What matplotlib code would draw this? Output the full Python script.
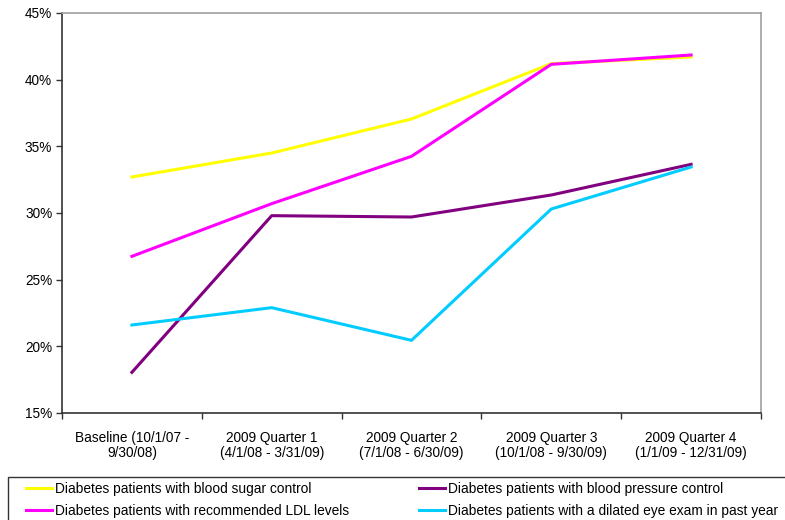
import matplotlib
matplotlib.use("Agg")
import matplotlib.pyplot as plt
from matplotlib.patches import Rectangle
from matplotlib.ticker import FuncFormatter

plt.rcParams['font.family'] = ['Liberation Sans', 'DejaVu Sans']

categories = [
    "Baseline (10/1/07 -\n9/30/08)",
    "2009 Quarter 1\n(4/1/08 - 3/31/09)",
    "2009 Quarter 2\n(7/1/08 - 6/30/09)",
    "2009 Quarter 3\n(10/1/08 - 9/30/09)",
    "2009 Quarter 4\n(1/1/09 - 12/31/09)",
]

blood_sugar = [32.7, 34.5, 37.05, 41.2, 41.7]
ldl_levels = [26.75, 30.7, 34.25, 41.15, 41.85]
blood_pressure = [18.05, 29.8, 29.7, 31.35, 33.65]
eye_exam = [21.6, 22.9, 20.45, 30.3, 33.45]

series_labels = [
    "Diabetes patients with blood sugar control",
    "Diabetes patients with recommended LDL levels",
    "Diabetes patients with blood pressure control",
    "Diabetes patients with a dilated eye exam in past year",
]

W, H = 785, 520
fig = plt.figure(figsize=(W / 100, H / 100), dpi=100)
ax = fig.add_axes([62 / W, 1 - 413 / H, (761 - 62) / W, (413 - 13) / H])

x = list(range(len(categories)))
l1, = ax.plot(x, blood_sugar, color="#FFFF00", lw=2.2)
l2, = ax.plot(x, ldl_levels, color="#FF00FF", lw=2.2)
l3, = ax.plot(x, blood_pressure, color="#800080", lw=2.2)
l4, = ax.plot(x, eye_exam, color="#00CCFF", lw=2.2)

ax.set_xlim(-0.5, len(categories) - 0.5)
ax.set_ylim(15, 45)
ax.set_yticks(range(15, 46, 5))
ax.yaxis.set_major_formatter(FuncFormatter(lambda v, p: f"{int(v)}%"))

# category labels at centers, tick marks at boundaries
ax.set_xticks(x)
ax.set_xticklabels(categories, fontsize=9.8, linespacing=1.1)
ax.set_xticks([i - 0.5 for i in range(len(categories) + 1)], minor=True)
ax.tick_params(axis="x", which="major", length=0, pad=13)
ax.tick_params(axis="x", which="minor", length=4, width=1, color="#333333", direction="out")
ax.tick_params(axis="y", length=4, width=1, color="#333333", direction="out", labelsize=9.8, pad=3)

for side in ("left", "bottom"):
    ax.spines[side].set_color("#333333")
    ax.spines[side].set_linewidth(1.2)
for side in ("top", "right"):
    ax.spines[side].set_color("#A0A0A0")
    ax.spines[side].set_linewidth(1.2)

# legend box running off the right and bottom edges
fig.patches.append(Rectangle((8 / W, -0.1), 1.0, (1 - 477 / H) + 0.1,
                             transform=fig.transFigure, fill=False,
                             edgecolor="#333333", linewidth=1.0))

leg = fig.legend(
    [l1, l2, l3, l4],
    series_labels,
    ncol=2,
    loc="upper left",
    bbox_to_anchor=(26 / W, 1 - 481.5 / H),
    fontsize=9.9,
    frameon=False,
    handlelength=1.9,
    handletextpad=0.2,
    labelspacing=0.62,
    columnspacing=5.1,
    borderaxespad=0,
    borderpad=0,
)

fig.savefig("out.png", dpi=100)
